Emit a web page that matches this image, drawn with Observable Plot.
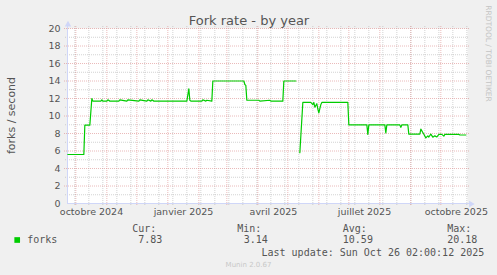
<!DOCTYPE html>
<html>
<head>
<meta charset="utf-8">
<script src="https://cdn.jsdelivr.net/npm/d3@7"></script>
<script src="https://cdn.jsdelivr.net/npm/@observablehq/plot@0.6"></script>
<style>
  html, body { margin: 0; padding: 0; background: #F0F0F0; }
  #chart svg { display: block; }
</style>
</head>
<body>
<div id="chart"></div>
<script>
// ---- Data ----
const dates = [
  "2024-09-23","2024-10-09","2024-10-10","2024-10-15","2024-10-17","2024-10-18",
  "2024-10-26","2024-10-27","2024-10-28","2024-11-01","2024-11-02","2024-11-04","2024-11-05",
  "2024-11-13","2024-11-14","2024-11-21","2024-11-22","2024-12-03","2024-12-04",
  "2024-12-11","2024-12-12","2024-12-15","2024-12-16","2024-12-18","2024-12-19",
  "2025-01-20","2025-01-22","2025-01-23","2025-01-24",
  "2025-02-04","2025-02-05","2025-02-08","2025-02-09","2025-02-14","2025-02-15",
  "2025-03-18","2025-03-19","2025-03-20","2025-03-21",
  "2025-04-02","2025-04-03","2025-04-13","2025-04-14","2025-04-26","2025-04-27",
  "2025-05-09","2025-05-10","2025-05-13","2025-05-16","2025-05-24","2025-05-26",
  "2025-05-27","2025-05-28","2025-05-30","2025-05-31","2025-06-01","2025-06-03","2025-06-04",
  "2025-06-30","2025-07-01","2025-07-19","2025-07-20","2025-07-21",
  "2025-08-06","2025-08-07","2025-08-08","2025-08-21","2025-08-22","2025-08-23",
  "2025-08-29","2025-08-30","2025-09-10","2025-09-11","2025-09-14","2025-09-16",
  "2025-09-18","2025-09-19","2025-09-21","2025-09-23","2025-09-25","2025-09-27",
  "2025-09-29","2025-10-02","2025-10-04","2025-10-05","2025-10-19","2025-10-20","2025-10-26"
];
const forks = [
  5.6, 5.6, 8.95, 8.95, 12.0, 11.7,
  11.7, 11.85, 11.7, 11.7, 11.85, 11.7, 11.7,
  11.7, 11.85, 11.7, 11.85, 11.7, 11.85,
  11.7, 11.85, 11.7, 11.85, 11.7, 11.7,
  11.7, 13.1, 11.8, 11.7,
  11.7, 11.85, 11.7, 11.8, 11.7, 14.0,
  14.0, 13.6, 13.5, 11.8,
  11.8, 11.7, 11.8, 11.7, 11.7, 14.0,
  14.0, null, 5.8, 11.55, 11.55, 11.3,
  11.55, 11.0, 11.4, 10.8, 10.35, 11.3, 11.55,
  11.55, 8.98, 8.98, 7.9, 8.98,
  8.98, 8.07, 8.98, 8.98, 8.7, 8.98,
  8.98, 7.92, 7.92, 8.5, 7.92, 7.5,
  7.73, 7.6, 7.92, 7.58, 7.73, 7.6,
  7.9, 7.9, 7.7, 7.9, 7.9, 7.83, 7.83
];
const yTicks = [0, 2, 4, 6, 8, 10, 12, 14, 16, 18, 20];
const xLabelDates = ["2024-10-16T16:00Z", "2025-01-16T16:00Z", "2025-04-16T16:00Z", "2025-07-16T16:00Z", "2025-10-16T12:00Z"];
const xLabels = ["octobre 2024", "janvier 2025", "avril 2025", "juillet 2025", "octobre 2025"];
const title = "Fork rate - by year";
const unitLabel = "forks / second";
const seriesName = "forks";
const statHeaders = ["Cur:", "Min:", "Avg:", "Max:"];
const statValues = ["7.83", "3.14", "10.59", "20.18"];
const lastUpdate = "Last update: Sun Oct 26 02:00:12 2025";
const footer = "Munin 2.0.67";
const sideMark = "RRDTOOL / TOBI OETIKER";

// ---- Build ----
const data = dates.map((d, i) => ({date: new Date(d + "T00:00Z"), value: forks[i]}));
const xStart = new Date("2024-09-22T16:00Z");
const xEnd = new Date("2025-10-27T16:00Z");
const majorX = d3.utcMonth.range(d3.utcMonth.ceil(xStart), xEnd);
const minorAnchor = new Date("2024-09-30T00:00Z");
const minorX = d3.range(0, 40).map(k => d3.utcDay.offset(minorAnchor, 14 * k)).filter(d => d < xEnd);
const minorY = d3.range(1, 20, 2);
const majorY = yTicks.filter(v => v > 0);
const labelData = xLabelDates.map((d, i) => ({date: new Date(d), text: xLabels[i]}));

const W = 497, H = 275, ML = 67, MT = 28;
const axisColor = "#CFD6F8";
const fontColor = "#555555";
const green = "#00CC00";
const sans = "DejaVu Sans, sans-serif";
const mono = "DejaVu Sans Mono, monospace";
const at = (txt, x, baseline, size, opts = {}) =>
  Plot.text([txt], {
    frameAnchor: "top-left", text: d => d,
    dx: x - ML, dy: baseline - MT - 0.32 * size,
    fontSize: size, lineAnchor: "middle", fill: fontColor, ...opts
  });

const arrowTip = d3.utcHour.offset(xEnd, 3 * 24 + 12);

const chart = Plot.plot({
  width: W, height: H,
  marginLeft: ML, marginRight: W - 467, marginTop: MT, marginBottom: H - 203,
  style: {background: "#F0F0F0", fontFamily: sans, color: fontColor},
  x: {type: "utc", domain: [xStart, xEnd], axis: null},
  y: {domain: [0, 20], axis: null},
  marks: [
    Plot.frame({fill: "white", stroke: null}),
    // minor grid
    Plot.ruleY(minorY, {stroke: "#b4b4b4", strokeOpacity: 0.6, strokeDasharray: "1,1", insetLeft: -2, insetRight: -2}),
    Plot.ruleX(minorX, {stroke: "#b4b4b4", strokeOpacity: 0.6, strokeDasharray: "1,1", insetTop: -2, insetBottom: -2}),
    // major grid
    Plot.ruleY(majorY, {stroke: "#dc8c8c", strokeOpacity: 0.6, strokeDasharray: "1,1", insetLeft: -3, insetRight: -2}),
    Plot.ruleX(majorX, {stroke: "#dc8c8c", strokeOpacity: 0.6, strokeDasharray: "1,1", insetTop: -2, insetBottom: -3}),
    // axes with arrows
    Plot.ruleY([0], {x1: xStart, x2: arrowTip, stroke: axisColor}),
    Plot.ruleX([xStart], {y1: 0, y2: 20.6, stroke: axisColor}),
    Plot.dot([20.45], {x: xStart, y: d => d, symbol: "triangle", r: 2.4, fill: axisColor, stroke: null, dx: 0.5}),
    Plot.dot([0], {x: arrowTip, y: d => d, symbol: "triangle", r: 2.4, fill: axisColor, stroke: null, rotate: 90, dy: 0.5}),
    // series
    Plot.line(data, {x: "date", y: "value", stroke: green, strokeWidth: 1.2}),
    // y tick labels
    Plot.text(yTicks, {frameAnchor: "left", y: d => d, text: d => String(d), textAnchor: "end", dx: -7, fontSize: 9.5, fill: fontColor}),
    // x labels
    Plot.text(labelData, {x: "date", y: 0, text: "text", dy: 8.5, lineAnchor: "middle", fontSize: 9.5, fill: fontColor}),
    // title & unit
    at(title, 248.5, 24, 13, {textAnchor: "middle"}),
    Plot.text([unitLabel], {frameAnchor: "top-left", text: d => d, dx: 11 - ML, dy: 115 - MT, rotate: -90, fontSize: 11, lineAnchor: "middle", textAnchor: "middle", fill: fontColor}),
    // legend
    Plot.dot([0], {frameAnchor: "top-left", dx: 16.7 - ML, dy: 239.5 - MT, symbol: "square", r: 3.2, fill: green, stroke: null}),
    at(seriesName, 26.7, 242.5, 10, {fontFamily: mono}),
    at(statHeaders[0], 131.7, 231, 10, {fontFamily: mono}),
    at(statHeaders[1], 236.7, 231, 10, {fontFamily: mono}),
    at(statHeaders[2], 342.3, 231, 10, {fontFamily: mono}),
    at(statHeaders[3], 446.7, 231, 10, {fontFamily: mono}),
    at(statValues[0], 137.7, 242.5, 10, {fontFamily: mono}),
    at(statValues[1], 243.3, 242.5, 10, {fontFamily: mono}),
    at(statValues[2], 342.3, 242.5, 10, {fontFamily: mono}),
    at(statValues[3], 446.7, 242.5, 10, {fontFamily: mono}),
    at(lastUpdate, 261, 255, 10, {fontFamily: mono}),
    at(footer, 248, 266.5, 7, {textAnchor: "middle", fill: "#c8c8c8"}),
    Plot.text([sideMark], {frameAnchor: "top-left", text: d => d, dx: 487.5 - ML, dy: 53 - MT, rotate: 90, fontSize: 7.5, lineAnchor: "middle", textAnchor: "middle", fill: "#c4c4c4"})
  ]
});
document.getElementById("chart").appendChild(chart);
</script>
</body>
</html>
